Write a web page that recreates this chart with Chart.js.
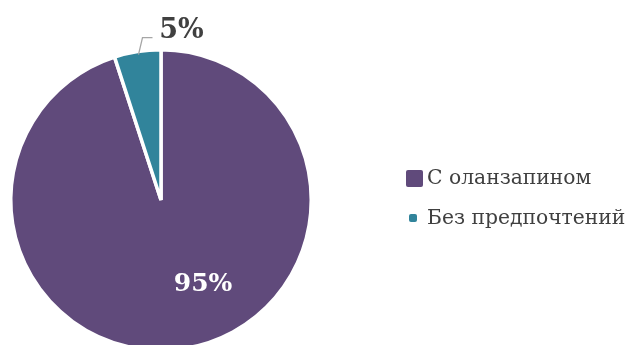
<!DOCTYPE html>
<html>
<head>
<meta charset="utf-8">
<script src="https://cdn.jsdelivr.net/npm/chart.js@4"></script>
<style>
  html, body { margin: 0; padding: 0; background: #fff; }
  #wrap { position: relative; width: 629px; height: 345px; overflow: hidden; }
  #pieChart { position: absolute; left: 0; top: 0; }
  #legend { position: absolute; left: 406px; top: 163px; font-family: "DejaVu Serif", serif; font-size: 20.3px; color: #404040; }
  .item { position: relative; height: 40px; line-height: 28px; padding-left: 21px; white-space: nowrap; }
  .box { position: absolute; border-radius: 2px; }
</style>
</head>
<body>
<div id="wrap">
  <canvas id="pieChart" width="629" height="400"></canvas>
  <div id="legend"></div>
</div>
<script>
const labels = ["С оланзапином", "Без предпочтений"];
const values = [95, 5];
const colors = ["#604a7b", "#31849b"];
const boxSizes = [17, 8];

// подписи процентов
const pctLabels = {
  id: "pctLabels",
  afterDatasetsDraw(chart) {
    const c = chart.ctx;
    const arcs = chart.getDatasetMeta(0).data;
    const total = values.reduce((a, b) => a + b, 0);
    c.save();
    c.textAlign = "center";
    c.textBaseline = "middle";

    // большой сектор — внутри
    const a0 = arcs[0];
    const R = a0.outerRadius;
    c.font = "bold 25px 'DejaVu Serif'";
    c.fillStyle = "#ffffff";
    c.fillText(Math.round(values[0] / total * 100) + "%", a0.x + 0.28 * R, a0.y + 0.565 * R);

    // маленький сектор — снаружи с выноской
    const a1 = arcs[1];
    const mid = (a1.startAngle + a1.endAngle) / 2;
    const ex = a1.x + Math.cos(mid) * R;
    const ey = a1.y + Math.sin(mid) * R;
    c.strokeStyle = "#a6a6a6";
    c.lineWidth = 1.3;
    c.beginPath();
    c.moveTo(ex + 1, ey + 3);
    c.lineTo(ex + 5, ey - 14);
    c.lineTo(ex + 15, ey - 14);
    c.stroke();
    c.font = "bold 27px 'DejaVu Serif'";
    c.fillStyle = "#404040";
    c.fillText(Math.round(values[1] / total * 100) + "%", ex + 44, ey - 21);
    c.restore();
  }
};

new Chart(document.getElementById("pieChart"), {
  type: "pie",
  data: {
    labels: labels,
    datasets: [{
      data: values,
      backgroundColor: colors,
      borderColor: "#ffffff",
      borderWidth: 3.5,
    }],
  },
  options: {
    responsive: false,
    animation: false,
    layout: {
      padding: { left: 9, right: 316, top: 48, bottom: 48 },
    },
    plugins: {
      legend: { display: false },
      tooltip: { enabled: false },
    },
  },
  plugins: [pctLabels],
});

const legend = document.getElementById("legend");
labels.forEach((name, i) => {
  const row = document.createElement("div");
  row.className = "item";
  const box = document.createElement("span");
  box.className = "box";
  box.style.background = colors[i];
  box.style.width = boxSizes[i] + "px";
  box.style.height = boxSizes[i] + "px";
  box.style.left = (i === 0 ? 0 : 3) + "px";
  box.style.top = (14 - boxSizes[i] / 2 + 1) + "px";
  row.appendChild(box);
  row.appendChild(document.createTextNode(name));
  legend.appendChild(row);
});
</script>
</body>
</html>
